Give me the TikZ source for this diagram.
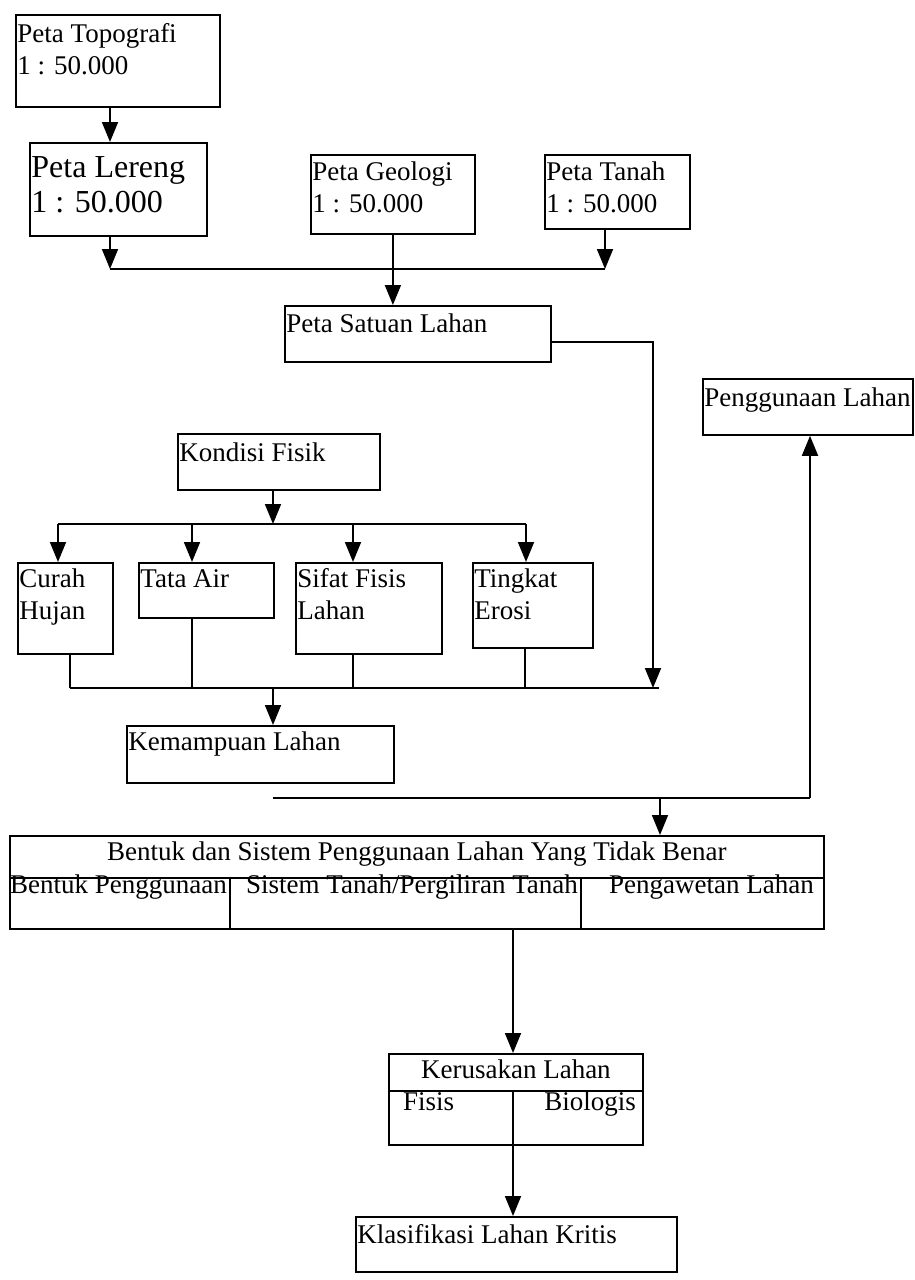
\documentclass[tikz,border=0pt]{standalone}
\usepackage{fontspec}
\setmainfont{Liberation Serif}
\usetikzlibrary{arrows.meta}
\newcommand{\fsn}{\fontsize{27}{32}\selectfont}
\newcommand{\fsl}{\fontsize{32}{35}\selectfont}
% width, height, first baseline offset, text
\newcommand{\bxt}[4]{\parbox[t][#2][t]{#1}{\raggedright\setlength{\leftskip}{1.5pt}\rule{0pt}{#3}#4}}
\newcommand{\bxc}[4]{\parbox[t][#2][t]{#1}{\centering\rule{0pt}{#3}#4}}
\tikzset{
  box/.style={draw, line width=1.8pt, inner sep=0pt, anchor=north west, font=\fsn},
  arr/.style={line width=1.8pt, -{Triangle[length=20pt,width=16pt]}},
  ln/.style={line width=1.8pt},
  sub/.style={inner sep=0pt, font=\fsn},
}
\begin{document}
\begin{tikzpicture}[x=1pt,y=-1pt]
\useasboundingbox (0,0) rectangle (914,1280);
\fill[white] (0,0) rectangle (914,1280);

% boxes
\node[box] (topo) at (15,14) {\bxt{204pt}{92pt}{28pt}{Peta Topografi\\1 : 50.000}};
\node[box,font=\fsl] (lereng) at (29,142) {\bxt{177pt}{93pt}{35pt}{Peta Lereng\\1 : 50.000}};
\node[box] (geologi) at (310,154) {\bxt{164pt}{79pt}{26pt}{Peta Geologi\\1 : 50.000}};
\node[box] (tanah) at (544,154) {\bxt{145pt}{74pt}{26pt}{Peta Tanah\\1 : 50.000}};
\node[box] (satuan) at (284,305) {\bxt{266pt}{56pt}{27pt}{Peta Satuan Lahan}};
\node[box] (penggunaan) at (702,378) {\bxt{210pt}{56pt}{28pt}{Penggunaan Lahan}};
\node[box] (kondisi) at (177,433) {\bxt{202pt}{56pt}{28pt}{Kondisi Fisik}};
\node[box] (curah) at (17,562) {\bxt{95pt}{91pt}{25pt}{Curah\\Hujan}};
\node[box] (tata) at (138,562) {\bxt{135pt}{55pt}{25pt}{Tata Air}};
\node[box] (sifat) at (295,562) {\bxt{146pt}{91pt}{25pt}{Sifat Fisis\\Lahan}};
\node[box] (tingkat) at (472,562) {\bxt{120pt}{85pt}{25pt}{Tingkat\\Erosi}};
\node[box] (kemampuan) at (126,725) {\bxt{267pt}{57pt}{25pt}{Kemampuan Lahan}};
\node[box] (bentuk) at (9,835) {\bxc{814pt}{93pt}{25pt}{Bentuk dan Sistem Penggunaan Lahan Yang Tidak Benar}};
\node[box] (kerusakan) at (388,1053) {\bxc{254pt}{91pt}{25pt}{Kerusakan Lahan}};
\node[box] (klasifikasi) at (355,1216) {\bxt{321pt}{55pt}{27pt}{Klasifikasi Lahan Kritis}};

% inner dividers and sub texts
\draw[ln] (9,878) -- (823,878);
\draw[ln] (230,878) -- (230,928);
\draw[ln] (581,878) -- (581,928);
\node[sub, anchor=base west] (s1) at (10,893) {Bentuk Penggunaan};
\node[sub, anchor=base west] (s2) at (246,893) {Sistem Tanah/Pergiliran Tanah};
\node[sub, anchor=base west] (s3) at (609,893) {Pengawetan Lahan};
\draw[ln] (388,1091) -- (642,1091);
\node[sub, anchor=base west] (f1) at (403,1110) {Fisis};
\node[sub, anchor=base east] (f2) at (636,1110) {Biologis};

% junction coordinates
\coordinate (j1) at (110,269);
\coordinate (j2) at (605,269);
\coordinate (j3) at (653,688);
\coordinate (b0) at (273,524);
\coordinate (b1) at (58,524);
\coordinate (b2) at (192,524);
\coordinate (b3) at (353,524);
\coordinate (b4) at (526,524);
\coordinate (c1) at (70,688);
\coordinate (c2) at (192,688);
\coordinate (c3) at (353,688);
\coordinate (c4) at (525,688);
\coordinate (c5) at (659,688);
\coordinate (j5) at (273,688);
\coordinate (k1) at (273,798);
\coordinate (k2) at (810,798);
\coordinate (k3) at (660,798);
\coordinate (kd) at (513,1091);

% connectors top
\draw[arr] (topo.south -| j1) -- (lereng.north -| j1);
\draw[arr] (lereng.south -| j1) -- (j1);
\draw[ln] (j1) -- (j2);
\draw[arr] (tanah.south -| j2) -- (j2);
\draw[arr] (geologi.south) -- (geologi.south |- satuan.north);
\draw[arr] ([yshift=-8pt]satuan.east) -| (j3);

% kondisi fan-out
\draw[arr] (kondisi.south -| b0) -- (b0);
\draw[ln] (b1) -- (b4);
\draw[arr] (b1) -- (curah.north -| b1);
\draw[arr] (b2) -- (tata.north -| b2);
\draw[arr] (b3) -- (sifat.north -| b3);
\draw[arr] (b4) -- (tingkat.north -| b4);

% fan-in
\draw[ln] (curah.south -| c1) -- (c1);
\draw[ln] (tata.south -| c2) -- (c2);
\draw[ln] (sifat.south -| c3) -- (c3);
\draw[ln] (tingkat.south -| c4) -- (c4);
\draw[ln] (c1) -- (c5);
\draw[arr] (j5) -- (kemampuan.north -| j5);

% lower part
\draw[ln] (k1) -- (k2);
\draw[arr] (k2) -- (penggunaan.south -| k2);
\draw[arr] (k3) -- (bentuk.north -| k3);
\draw[arr] (bentuk.south -| kd) -- (kerusakan.north -| kd);
\draw[arr] (kd) -- (klasifikasi.north -| kd);
\end{tikzpicture}
\end{document}
